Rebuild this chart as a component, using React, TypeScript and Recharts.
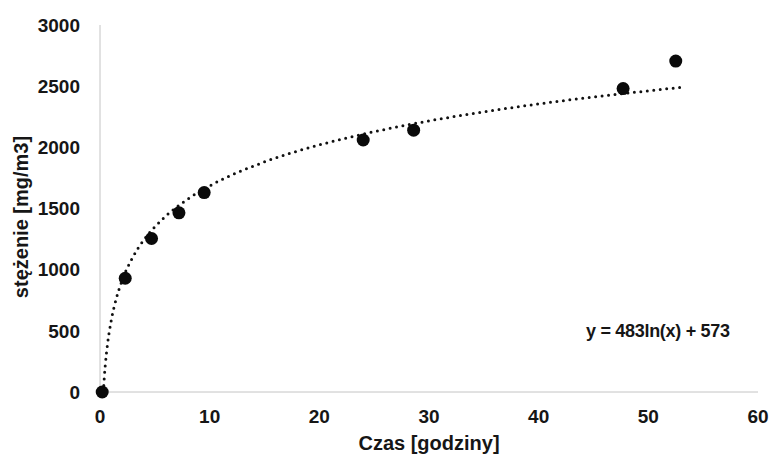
import React from 'react';
import { ComposedChart, XAxis, YAxis, Scatter, Line, Label } from 'recharts';

const xTicks = [0, 10, 20, 30, 40, 50, 60];
const yTicks = [0, 500, 1000, 1500, 2000, 2500, 3000];

const measuredHours = [0.2, 2.3, 4.7, 7.2, 9.5, 24.0, 28.6, 47.7, 52.5];
const measuredConc = [0, 930, 1255, 1465, 1630, 2060, 2140, 2480, 2705];

// trend line y = 483ln(x) + 573
const trendHours = [0.31, 0.4, 0.5, 0.7, 1, 1.5, 2, 3, 4, 5, 6, 8, 10, 15, 20, 25, 30, 35, 40, 45, 50, 53];
const trendConc = [0, 131, 238, 401, 573, 769, 908, 1104, 1243, 1350, 1438, 1577, 1685, 1881, 2020, 2128, 2216, 2290, 2355, 2412, 2462, 2491];

const equationText = 'y = 483ln(x) + 573';
const xTitle = 'Czas [godziny]';
const yTitle = 'stężenie [mg/m3]';

const points = measuredHours.map((x, i) => ({ x, y: measuredConc[i] }));
const trend = trendHours.map((x, i) => ({ x, y: trendConc[i] }));

const FONT = '"Liberation Sans", Arial, sans-serif';
const TXT = '#161616';

export default function App() {
  return (
    <div style={{ position: 'absolute', left: 0, top: 0, width: 769, height: 461, background: '#fff' }}>
      <ComposedChart width={769} height={461} margin={{ top: 25, right: 11, bottom: 0, left: 0 }}>
        <XAxis
          type="number"
          dataKey="x"
          domain={[0, 60]}
          ticks={xTicks}
          axisLine={{ stroke: '#c4c4c4', strokeWidth: 1 }}
          tickLine={false}
          tickSize={0}
          tickMargin={18}
          height={69}
          tick={{ fill: TXT, fontSize: 19, fontWeight: 700, fontFamily: FONT }}
        >
          <Label
            value={xTitle}
            position="insideBottom"
            offset={11}
            style={{ fill: TXT, fontSize: 20, fontWeight: 700, fontFamily: FONT }}
          />
        </XAxis>
        <YAxis
          type="number"
          dataKey="y"
          domain={[0, 3000]}
          ticks={yTicks}
          width={100}
          axisLine={{ stroke: '#c4c4c4', strokeWidth: 1 }}
          tickLine={false}
          tickSize={0}
          tickMargin={20}
          tick={{ fill: TXT, fontSize: 19, fontWeight: 700, fontFamily: FONT }}
        >
          <Label
            content={() => (
              <text
                x={28}
                y={217}
                transform="rotate(-90 28 217)"
                textAnchor="middle"
                fill={TXT}
                fontSize={20}
                fontWeight={700}
                fontFamily={FONT}
              >
                {yTitle}
              </text>
            )}
          />
        </YAxis>
        <Line
          data={trend}
          dataKey="y"
          type="monotone"
          stroke="#111"
          strokeWidth={3}
          strokeDasharray="0 6.5"
          strokeLinecap="round"
          dot={false}
          activeDot={false}
          isAnimationActive={false}
          legendType="none"
        />
        <Scatter
          data={points}
          dataKey="y"
          fill="#0a0a0a"
          isAnimationActive={false}
          shape={(p: any) => <circle cx={p.cx} cy={p.cy} r={6.5} fill="#0a0a0a" />}
        />
      </ComposedChart>
      <div
        style={{
          position: 'absolute',
          left: 586,
          top: 321,
          fontFamily: FONT,
          fontSize: 18,
          fontWeight: 700,
          color: TXT,
          whiteSpace: 'nowrap',
          letterSpacing: -0.3,
        }}
      >
        {equationText}
      </div>
    </div>
  );
}
